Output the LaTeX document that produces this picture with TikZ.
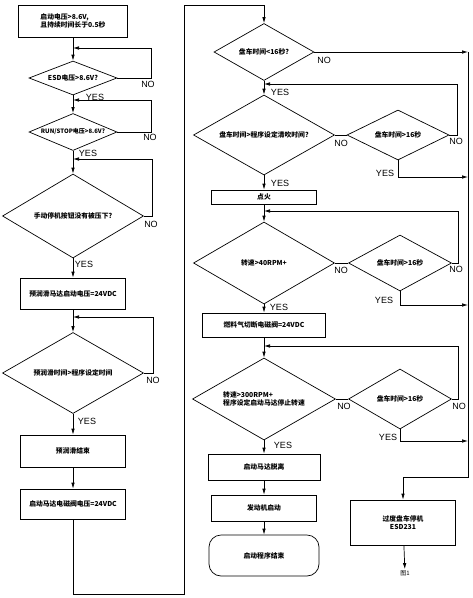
\documentclass[tikz,border=0pt]{standalone}
\usepackage{fontspec}
\setmainfont{Liberation Sans}
\newfontfamily\cjk{Noto Sans CJK SC}
\usetikzlibrary{shapes.geometric,arrows.meta}

\tikzset{
  flow/.style={line width=0.7pt},
  arr/.style={flow, -{Latex[length=6pt,width=3.5pt]}},
  box/.style n args={2}{draw, line width=0.7pt, inner sep=0pt,
    minimum width=#1, minimum height=#2,
    font=\cjk\bfseries\fontsize{6.8}{8}\selectfont, align=center},
  dec/.style n args={3}{diamond, draw, line width=0.7pt, inner sep=0pt,
    minimum width=#1, minimum height=#2, aspect=#3,
    font=\cjk\bfseries\fontsize{6.8}{8}\selectfont, align=center},
  yn/.style={font=\fontsize{9}{9}\selectfont, inner sep=0pt}
}

\begin{document}
\begin{tikzpicture}[x=1pt,y=-1pt]
\useasboundingbox (0,0) rectangle (473,598);

% Colonne gauche
\node[box={109pt}{32pt}, align=left] (start) at (73,21) {启动电压>8.6V,\\且持续时间长于0.5秒};
\node[dec={88pt}{34pt}{2.5}] (esd) at (73,78) {ESD电压>8.6V?};
\node[dec={88pt}{37pt}{2.4}, font=\cjk\bfseries\fontsize{6}{7}\selectfont] (run) at (73,132) {RUN/STOP电压>8.6V?};
\node[dec={141pt}{84pt}{1.7}] (man) at (73,216) {手动停机按钮没有被压下?};
\node[box={105pt}{31pt}] (pre) at (73,293.5) {预润滑马达启动电压=24VDC};
\node[dec={141pt}{81pt}{1.7}] (pret) at (73,373) {预润滑时间>程序设定时间};
\node[box={105pt}{32pt}] (preend) at (73,451) {预润滑结束};
\node[box={105pt}{30pt}] (smv) at (73,504) {启动马达电磁阀电压=24VDC};

\coordinate (j1) at (73,48);
\coordinate (j2) at (73,100);
\coordinate (j3) at (73,159);
\coordinate (j4) at (73,317);
\coordinate (r1) at (73,594);
\coordinate (r2) at (184,594);
\coordinate (r3) at (184,5);

\draw[arr] (start) -- (esd);
\draw[arr] (esd.east) -- ++(34,0) |- (j1);
\draw[arr] (esd) -- (run);
\draw[arr] (run.east) -- ++(34,0) |- (j2);
\draw[arr] (run) -- (man);
\draw[arr] (man.east) -- ++(8,0) |- (j3);
\draw[arr] (man) -- (pre);
\draw[arr] (pre) -- (pret);
\draw[arr] (pret.east) -- ++(9,0) |- (j4);
\draw[arr] (pret) -- (preend);
\draw[arr] (preend) -- (smv);

\node[yn] (nesd) at (148,84) {NO};
\node[yn] (yesd) at (95,97) {YES};
\node[yn] (nrun) at (150,137) {NO};
\node[yn] (yrun) at (88,153) {YES};
\node[yn] (nman) at (151,224) {NO};
\node[yn] (yman) at (84,264) {YES};
\node[yn] (npret) at (153,380) {NO};
\node[yn] (ypret) at (87,421) {YES};

% Colonne droite
\node[dec={100pt}{57pt}{1.75}] (c16) at (264,52) {盘车时间<16秒?};
\node[dec={141pt}{80pt}{1.75}] (purge) at (264,135) {盘车时间>程序设定清吹时间?};
\node[dec={102pt}{50pt}{2}] (s1) at (398,135) {盘车时间>16秒};
\node[box={105pt}{14pt}] (fire) at (264,197) {点火};
\node[dec={141pt}{82pt}{1.7}] (rpm40) at (264,263) {转速>40RPM+};
\node[dec={103pt}{56pt}{1.8}] (s2) at (400,263) {盘车时间>16秒};
\node[box={123pt}{24pt}] (fuel) at (264,325) {燃料气切断电磁阀=24VDC};
\node[dec={143pt}{82pt}{1.75}, align=left] (rpm300) at (264,399) {转速>300RPM+\\程序设定启动马达停止转速};
\node[dec={103pt}{60pt}{1.7}] (s3) at (400,399) {盘车时间>16秒};
\node[box={112pt}{26pt}] (disen) at (264,467) {启动马达脱离};
\node[box={105pt}{26pt}] (eng) at (264,508) {发动机启动};
\node[box={110pt}{41pt}, rounded corners=12pt] (endp) at (264,555.5) {启动程序结束};
\node[box={105pt}{45pt}] (trip) at (403,522.5) {过度盘车停机\\ESD231};
\node[font=\cjk\fontsize{6}{7}\selectfont, inner sep=1pt] (fig) at (405,573) {图1};

\coordinate (k1) at (264,84);
\coordinate (k2) at (264,211);
\coordinate (k3) at (264,346);
\coordinate (b1) at (468,52);
\coordinate (b2) at (468,177);
\coordinate (b3) at (468,305);
\coordinate (b4) at (468,441);
\coordinate (b5) at (468,477);

\draw[arr] (smv.south) -- (r1) -- (r2) -- (r3) -| (c16.north);
\draw[arr] (c16.east) -- (b1);
\draw[arr] (c16) -- (purge);
\draw[flow] (purge.east) -- (s1.west);
\draw[arr] (s1.east) -- ++(8,0) |- (k1);
\draw[arr] (s1.south) |- (b2);
\draw[arr] (purge) -- (fire);
\draw[arr] (fire) -- (rpm40);
\draw[flow] (rpm40.east) -- (s2.west);
\draw[arr] (s2.east) -- ++(6,0) |- (k2);
\draw[arr] (s2.south) |- (b3);
\draw[arr] (rpm40) -- (fuel);
\draw[arr] (fuel) -- (rpm300);
\draw[flow] (rpm300.east) -- (s3.west);
\draw[arr] (s3.east) -- ++(6,0) |- (k3);
\draw[arr] (s3.south) |- (b4);
\draw[arr] (rpm300) -- (disen);
\draw[arr] (disen) -- (eng);
\draw[arr] (eng) -- (endp);

% Arret
\draw[arr] (b1) -- (b5) -| (trip.north);
\draw[arr] (trip) -- (fig);

\node[yn] (nc16) at (324,60) {NO};
\node[yn] (yc16) at (280,92) {YES};
\node[yn] (npur) at (341,143) {NO};
\node[yn] (ns1) at (456,141) {NO};
\node[yn] (ys1) at (385,173) {YES};
\node[yn] (ypur) at (280,183) {YES};
\node[yn] (nrpm) at (341,270) {NO};
\node[yn] (ns2) at (456,269) {NO};
\node[yn] (ys2) at (384,300) {YES};
\node[yn] (yrpm) at (279,307) {YES};
\node[yn] (nr3) at (344,406) {NO};
\node[yn] (ns3) at (459,406) {NO};
\node[yn] (ys3) at (388,437) {YES};
\node[yn] (yr3) at (283,445) {YES};

\end{tikzpicture}
\end{document}
